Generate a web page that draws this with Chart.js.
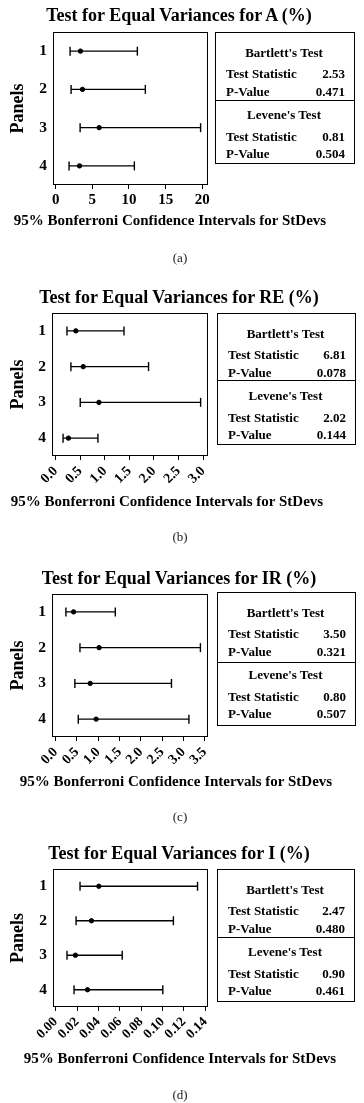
<!DOCTYPE html>
<html>
<head>
<meta charset="utf-8">
<script src="https://cdn.jsdelivr.net/npm/chart.js@4.4.1/dist/chart.umd.min.js"></script>
<style>
  html, body { margin: 0; padding: 0; background: #fff; }
  #page { position: relative; width: 364px; height: 1103px; overflow: hidden; background: #fff; font-family: "Liberation Serif", "Times New Roman", serif; color: #000; }
  canvas { position: absolute; left: 0; }
  .t { position: absolute; white-space: nowrap; }
  .box { position: absolute; border: 1px solid #000; box-sizing: border-box; }
  .sep { position: absolute; left: 0; right: 0; height: 1px; background: #000; }
</style>
</head>
<body>
<div id="page"></div>
<script>
// ---------- data ----------
const categories = ['1', '2', '3', '4'];

const titles = [
  'Test for Equal Variances for A (%)',
  'Test for Equal Variances for RE (%)',
  'Test for Equal Variances for IR (%)',
  'Test for Equal Variances for I (%)'
];
const captions = ['(a)', '(b)', '(c)', '(d)'];
const yTitle = 'Panels';
const xTitle = '95% Bonferroni Confidence Intervals for StDevs';

const lowA  = [1.96, 2.10, 3.33, 1.82];
const estA  = [3.38, 3.65, 5.93, 3.25];
const highA = [11.14, 12.23, 19.77, 10.73];

const lowRE  = [0.23, 0.31, 0.50, 0.15];
const estRE  = [0.41, 0.56, 0.88, 0.26];
const highRE = [1.39, 1.89, 2.95, 0.86];

const lowIR  = [0.24, 0.57, 0.45, 0.53];
const estIR  = [0.42, 1.02, 0.81, 0.95];
const highIR = [1.40, 3.40, 2.72, 3.13];

const lowI  = [0.0228, 0.0191, 0.0106, 0.0172];
const estI  = [0.0404, 0.0335, 0.0185, 0.0298];
const highI = [0.1328, 0.1102, 0.0623, 0.1003];

const ticksA  = [0, 5, 10, 15, 20];
const tickLabelsA = ['0', '5', '10', '15', '20'];
const ticksRE = [0, 0.5, 1.0, 1.5, 2.0, 2.5, 3.0];
const tickLabelsRE = ['0.0', '0.5', '1.0', '1.5', '2.0', '2.5', '3.0'];
const ticksIR = [0, 0.5, 1.0, 1.5, 2.0, 2.5, 3.0, 3.5];
const tickLabelsIR = ['0.0', '0.5', '1.0', '1.5', '2.0', '2.5', '3.0', '3.5'];
const ticksI  = [0, 0.02, 0.04, 0.06, 0.08, 0.10, 0.12, 0.14];
const tickLabelsI = ['0.00', '0.02', '0.04', '0.06', '0.08', '0.10', '0.12', '0.14'];

const bartlettStat = ['2.53', '6.81', '3.50', '2.47'];
const bartlettP    = ['0.471', '0.078', '0.321', '0.480'];
const leveneStat   = ['0.81', '2.02', '0.80', '0.90'];
const leveneP      = ['0.504', '0.144', '0.507', '0.461'];
const statHeads = ["Bartlett's Test", "Levene's Test"];
const statNames = ['Test Statistic', 'P-Value'];

// ---------- layout (positions / styles) ----------
const panels = [
  { low: lowA, est: estA, high: highA, ticks: ticksA, labels: tickLabelsA,
    top: 0, area: { l: 53, r: 208, t: 32, b: 185 }, xmin: -0.37, xmax: 20.78, rot: 0, tickSize: 15,
    titleY: 15, xTitleY: 220, xTitleX: 170, capY: 257,
    stat: { l: 215, t: 32, w: 140, h: 132, sep: 68 } },
  { low: lowRE, est: estRE, high: highRE, ticks: ticksRE, labels: tickLabelsRE,
    top: 280, area: { l: 52, r: 208, t: 313, b: 456 }, xmin: -0.075, xmax: 3.10, rot: 45, tickSize: 14,
    titleY: 296.7, xTitleY: 501.7, xTitleX: 167, capY: 536.7,
    stat: { l: 217, t: 313, w: 139, h: 132, sep: 67 } },
  { low: lowIR, est: estIR, high: highIR, ticks: ticksIR, labels: tickLabelsIR,
    top: 560, area: { l: 52, r: 208, t: 594, b: 737 }, xmin: -0.087, xmax: 3.578, rot: 45, tickSize: 14,
    titleY: 578.3, xTitleY: 781.7, xTitleX: 176, capY: 816.7,
    stat: { l: 217, t: 592, w: 139, h: 134, sep: 70 } },
  { low: lowI, est: estI, high: highI, ticks: ticksI, labels: tickLabelsI,
    top: 830, area: { l: 53, r: 208, t: 869, b: 1007 }, xmin: -0.0025, xmax: 0.1426, rot: 45, tickSize: 13.5,
    titleY: 852.7, xTitleY: 1058.3, xTitleX: 180, capY: 1094,
    stat: { l: 217, t: 869, w: 138, h: 133, sep: 68 } }
];

const page = document.getElementById('page');
const SERIF = '"Liberation Serif", "Times New Roman", serif';

function addText(parent, text, x, cy, size, weight, align, color) {
  const d = document.createElement('div');
  d.className = 't';
  d.textContent = text;
  d.style.fontSize = size + 'px';
  d.style.lineHeight = size + 'px';
  d.style.fontWeight = weight;
  d.style.top = (cy - size / 2) + 'px';
  if (color) d.style.color = color;
  if (align === 'center') { d.style.left = (x - 200) + 'px'; d.style.width = '400px'; d.style.textAlign = 'center'; }
  else if (align === 'right') { d.style.left = (x - 200) + 'px'; d.style.width = '200px'; d.style.textAlign = 'right'; }
  else { d.style.left = x + 'px'; }
  parent.appendChild(d);
  return d;
}

const boxPlugin = {
  id: 'frameBox',
  afterDraw(chart) {
    const a = chart.chartArea, ctx = chart.ctx;
    ctx.save();
    ctx.strokeStyle = '#000';
    ctx.lineWidth = 1;
    ctx.strokeRect(a.left + 0.5, a.top + 0.5, a.right - a.left - 1, a.bottom - a.top - 1);
    ctx.restore();
  }
};

const CANVAS_W = 364, CANVAS_H = 240;

panels.forEach((p, k) => {
  const cv = document.createElement('canvas');
  cv.width = CANVAS_W; cv.height = CANVAS_H;
  cv.style.width = CANVAS_W + 'px'; cv.style.height = CANVAS_H + 'px';
  cv.style.top = p.top + 'px';
  page.appendChild(cv);

  const datasets = categories.map((c, i) => ({
    data: [{ x: p.low[i], y: c }, { x: p.high[i], y: c }],
    showLine: true,
    borderColor: '#000',
    borderWidth: 1.4,
    pointStyle: 'line',
    rotation: 90,
    pointRadius: 4.5,
    pointBorderWidth: 1.4,
    pointBorderColor: '#000',
    pointBackgroundColor: '#000'
  }));
  datasets.push({
    data: categories.map((c, i) => ({ x: p.est[i], y: c })),
    showLine: false,
    pointStyle: 'circle',
    pointRadius: 2.2,
    pointBorderWidth: 1,
    pointBorderColor: '#000',
    pointBackgroundColor: '#000'
  });

  const xH = CANVAS_H - (p.area.b - p.top);

  new Chart(cv, {
    type: 'scatter',
    data: { datasets },
    plugins: [boxPlugin],
    options: {
      responsive: false,
      animation: false,
      devicePixelRatio: 1,
      events: [],
      layout: { padding: { top: p.area.t - p.top, left: 0, right: CANVAS_W - p.area.r, bottom: 0 } },
      plugins: { legend: { display: false }, tooltip: { enabled: false }, title: { display: false } },
      scales: {
        x: {
          type: 'linear',
          min: p.xmin, max: p.xmax,
          afterBuildTicks: s => { s.ticks = p.ticks.map(v => ({ value: v })); },
          afterFit: s => { s.height = xH; },
          grid: { display: true, drawOnChartArea: false, drawTicks: true, tickLength: 4, color: '#000', lineWidth: 1 },
          border: { display: false },
          ticks: {
            autoSkip: false,
            minRotation: p.rot, maxRotation: p.rot,
            padding: p.rot ? 3 : 2,
            color: '#000',
            font: { family: SERIF, size: p.tickSize, weight: 'bold' },
            callback: (v, i) => p.labels[i]
          }
        },
        y: {
          type: 'category',
          labels: categories,
          offset: true,
          afterFit: s => { s.width = p.area.l; },
          grid: { display: false, drawTicks: false },
          border: { display: false },
          ticks: { padding: 6, color: '#000', font: { family: SERIF, size: 15.5, weight: 'bold' } },
          title: { display: true, text: yTitle, color: '#000', padding: { top: 7.5, bottom: 0 },
                   font: { family: SERIF, size: 18, weight: 'bold', lineHeight: 1.2 } }
        }
      }
    }
  });

  // texts
  addText(page, titles[k], 179, p.titleY, 18, 'bold', 'center');
  addText(page, xTitle, p.xTitleX, p.xTitleY, 15, 'bold', 'center');
  addText(page, captions[k], 180, p.capY, 13, 'normal', 'center', '#222');

  // stats box
  const s = p.stat;
  const box = document.createElement('div');
  box.className = 'box';
  box.style.left = s.l + 'px'; box.style.top = s.t + 'px';
  box.style.width = s.w + 'px'; box.style.height = s.h + 'px';
  page.appendChild(box);
  const sep = document.createElement('div');
  sep.className = 'sep';
  sep.style.top = (s.sep - 1) + 'px';
  box.appendChild(sep);
  const cx = s.w / 2 - 2, lx = 10, rx = s.w - 11;
  const off = [19, 40.5, 58, 81.5, 103, 120];
  addText(box, statHeads[0], cx, off[0], 13, 'bold', 'center');
  addText(box, statNames[0], lx, off[1], 13, 'bold', 'left');
  addText(box, bartlettStat[k], rx, off[1], 13, 'bold', 'right');
  addText(box, statNames[1], lx, off[2], 13, 'bold', 'left');
  addText(box, bartlettP[k], rx, off[2], 13, 'bold', 'right');
  addText(box, statHeads[1], cx, off[3], 13, 'bold', 'center');
  addText(box, statNames[0], lx, off[4], 13, 'bold', 'left');
  addText(box, leveneStat[k], rx, off[4], 13, 'bold', 'right');
  addText(box, statNames[1], lx, off[5], 13, 'bold', 'left');
  addText(box, leveneP[k], rx, off[5], 13, 'bold', 'right');
});
</script>
</body>
</html>
